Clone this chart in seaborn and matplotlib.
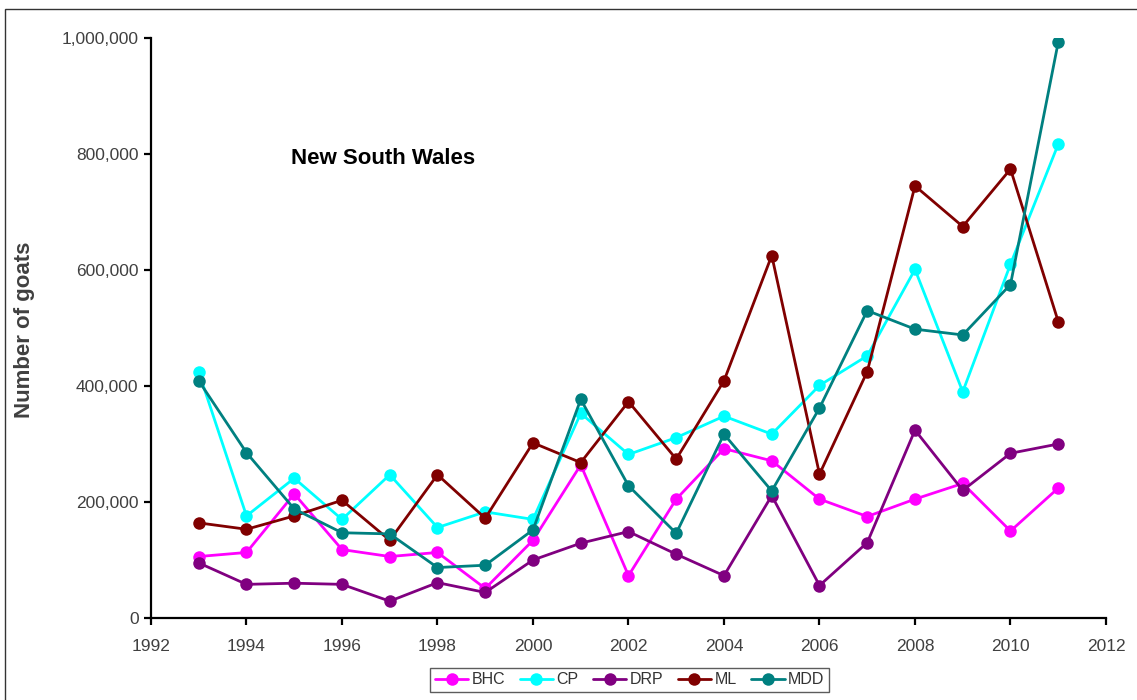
import matplotlib
matplotlib.use("Agg")
import matplotlib.pyplot as plt
from matplotlib.patches import Rectangle
from matplotlib.ticker import FuncFormatter
import seaborn as sns
import pandas as pd

years = list(range(1993, 2012))
regions = ["BHC", "CP", "DRP", "ML", "MDD"]
bhc = [106000, 113000, 214000, 118000, 106000, 113000, 51000, 134000, 264000, 73000,
       205000, 292000, 271000, 205000, 175000, 205000, 232000, 150000, 224000]
cp = [424000, 176000, 241000, 170000, 247000, 156000, 183000, 170000, 353000, 282000,
      311000, 348000, 317000, 401000, 452000, 601000, 390000, 610000, 817000]
drp = [95000, 58000, 60000, 58000, 29000, 61000, 44000, 100000, 129000, 149000,
       110000, 73000, 211000, 56000, 130000, 324000, 220000, 284000, 300000]
ml = [164000, 153000, 176000, 203000, 134000, 247000, 172000, 302000, 268000, 373000,
      274000, 409000, 625000, 248000, 425000, 745000, 675000, 774000, 511000]
mdd = [409000, 285000, 188000, 147000, 145000, 87000, 91000, 152000, 377000, 228000,
       146000, 317000, 219000, 362000, 530000, 498000, 488000, 575000, 993000]
colors = ["#FF00FF", "#00FFFF", "#800080", "#800000", "#008080"]
title_text = "New South Wales"
y_label = "Number of goats"

series = dict(zip(regions, [bhc, cp, drp, ml, mdd]))
df = pd.DataFrame([
    {"Year": y, "Goats": v, "Region": r}
    for r in regions for y, v in zip(years, series[r])
])

sns.set_theme(style="white")
plt.rcParams["font.family"] = ["Liberation Sans", "DejaVu Sans"]

W, H = 1137, 700
fig = plt.figure(figsize=(W / 100, H / 100), dpi=100)
ax = fig.add_axes([151 / W, 1 - 618 / H, (1106 - 151) / W, (618 - 38) / H])

sns.lineplot(data=df, x="Year", y="Goats", hue="Region", hue_order=regions,
             palette=colors, marker="o", markersize=9, markeredgewidth=0,
             linewidth=2, ax=ax, legend=False)

ax.set_xlim(1992, 2012)
ax.set_ylim(0, 1000000)
ax.set_xticks(range(1992, 2013, 2))
ax.set_yticks(range(0, 1000001, 200000))
ax.yaxis.set_major_formatter(FuncFormatter(lambda v, p: f"{int(v):,}"))
ax.set_xlabel("")
ax.set_ylabel("")
for s in ["top", "right"]:
    ax.spines[s].set_visible(False)
for s in ["left", "bottom"]:
    ax.spines[s].set_color("black")
    ax.spines[s].set_linewidth(1.6)
ax.tick_params(axis="both", which="major", direction="out", length=5, width=1.6,
               color="black", labelsize=12.5, labelcolor="#404040", pad=4,
               left=True, bottom=True)
ax.tick_params(axis="x", pad=10)

ax.text(1996.86, 793000, title_text, ha="center", va="center",
        fontsize=16, fontweight="bold", color="black")

fig.text(25 / W, 1 - 330 / H, y_label, rotation=90, ha="center", va="center",
         fontsize=16, fontweight="bold", color="#404040")

handles = [plt.Line2D([], [], color=c, marker="o", markersize=9, markeredgewidth=0,
                      linewidth=2) for c in colors]
leg = fig.legend(handles, regions, loc="center", bbox_to_anchor=(629.5 / W, 1 - 680 / H),
                 ncol=5, frameon=True, fancybox=False, edgecolor="#333333",
                 fontsize=11.5, handlelength=2.1, columnspacing=0.9, handletextpad=0.2,
                 borderpad=0.3, labelcolor="#333333")
leg.get_frame().set_linewidth(1)

fig.patches.append(Rectangle((5 / W, -0.1), 1.2, (H - 9) / H + 0.1,
                             transform=fig.transFigure, fill=False,
                             edgecolor="#333333", linewidth=1))

fig.savefig("out.png", dpi=100)
